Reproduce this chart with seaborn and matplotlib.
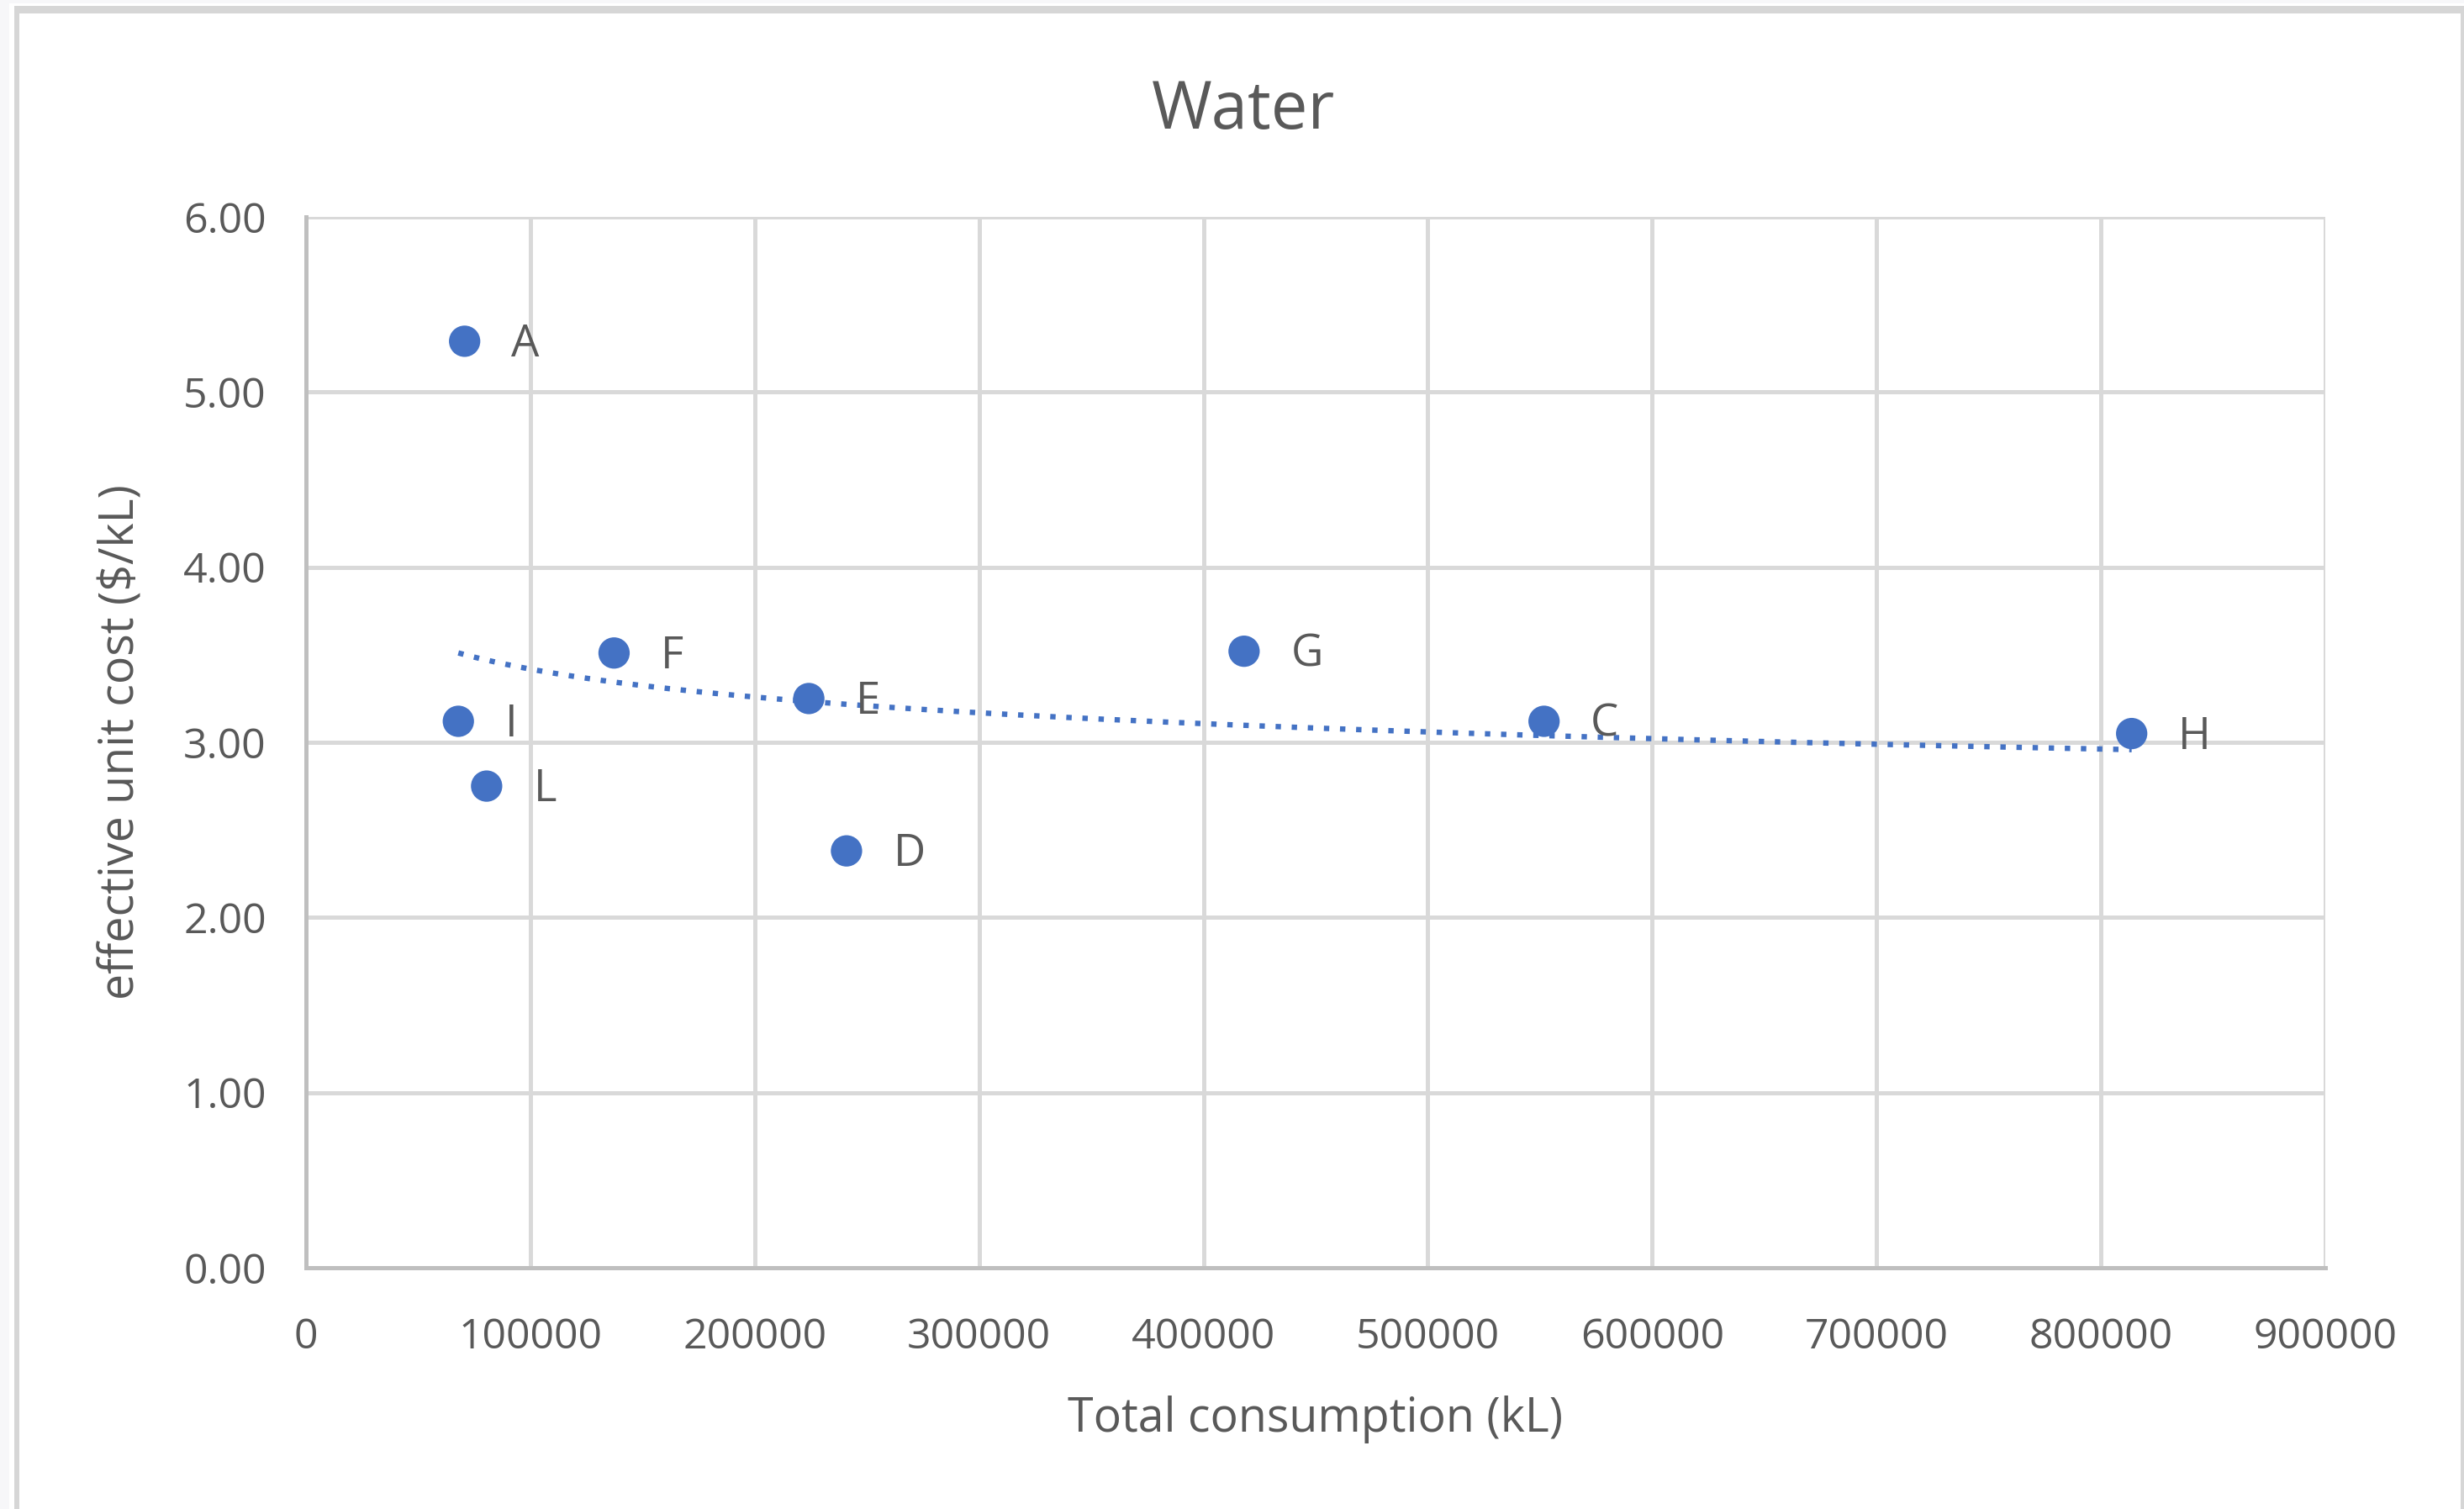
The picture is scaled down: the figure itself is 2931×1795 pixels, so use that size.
import numpy as np
import pandas as pd
import matplotlib
matplotlib.use("Agg")
import matplotlib.pyplot as plt
from matplotlib.patches import Rectangle
import seaborn as sns

# data
sites = ["A", "I", "L", "F", "E", "D", "G", "C", "H"]
consumption = [70700, 67900, 80500, 137300, 224100, 240900, 418100, 551800, 813700]
unit_cost = [5.29, 3.12, 2.75, 3.51, 3.25, 2.38, 3.52, 3.12, 3.05]

x_ticks = [0, 100000, 200000, 300000, 400000, 500000, 600000, 700000, 800000, 900000]
y_ticks = [0, 1, 2, 3, 4, 5, 6]

df = pd.DataFrame({"site": sites, "consumption": consumption, "cost": unit_cost})

sns.set_style("white")
plt.rcParams["font.family"] = ["Open Sans", "DejaVu Sans"]

blue = "#4472C4"
grey_text = "#595959"

W, H = 2931, 1795
fig = plt.figure(figsize=(W / 200, H / 200), dpi=200)
fig.patch.set_facecolor("#f7f7f9")

# chart frame like the screenshot
fig.patches.append(Rectangle((11 / W, 0), 1, 1 - 4 / H, transform=fig.transFigure,
                             facecolor="white", edgecolor="none", zorder=-3))
fig.patches.append(Rectangle((17 / W, 0), (2931 - 17) / W, 1 - 7 / H, transform=fig.transFigure,
                             facecolor="#d6d6d6", edgecolor="none", zorder=-2))
fig.patches.append(Rectangle((23 / W, 0), (2927 - 23) / W, 1 - 16 / H, transform=fig.transFigure,
                             facecolor="white", edgecolor="none", zorder=-1))

ax = fig.add_axes([364 / W, 1 - 1508 / H, (2766 - 364) / W, (1508 - 258) / H])
ax.set_facecolor("none")

# power trendline (least squares in log-log space, like Excel)
b, ln_a = np.polyfit(np.log(df["consumption"]), np.log(df["cost"]), 1)
xs = np.linspace(df["consumption"].min(), df["consumption"].max(), 200)
ax.plot(xs, np.exp(ln_a) * xs ** b, color=blue, lw=2.3, linestyle=(0, (1.0, 2.0)),
        dash_capstyle="butt", zorder=2)

sns.scatterplot(data=df, x="consumption", y="cost", ax=ax, color=blue, s=180,
                edgecolor="none", zorder=3, legend=False)

for _, r in df.iterrows():
    ax.annotate(r["site"], (r["consumption"], r["cost"]), xytext=(20, -1.5),
                textcoords="offset points", va="center", ha="left",
                fontsize=19, color=grey_text)

ax.set_xlim(0, 900000)
ax.set_ylim(0, 6)
ax.set_xticks(x_ticks)
ax.set_yticks(y_ticks)
ax.set_xticklabels([str(t) for t in x_ticks])
ax.set_yticklabels([f"{t:.2f}" for t in y_ticks])
ax.tick_params(axis="both", length=0, labelsize=18, labelcolor=grey_text)
ax.tick_params(axis="x", pad=21)
ax.tick_params(axis="y", pad=17)

ax.grid(True, color="#d9d9d9", lw=1.8)
ax.set_axisbelow(True)
for side in ["top", "right"]:
    ax.spines[side].set_visible(False)
for side in ["left", "bottom"]:
    ax.spines[side].set_color("#bfbfbf")
    ax.spines[side].set_linewidth(1.8)

ax.set_xlabel("Total consumption (kL)", fontsize=20, color=grey_text, labelpad=16)
ax.set_ylabel("effective unit cost ($/kL)", fontsize=20, color=grey_text, labelpad=16)

fig.text(0.5045, 1 - 132 / H, "Water", ha="center", va="center", fontsize=28, color=grey_text)

fig.savefig("out.png", dpi=200, facecolor=fig.get_facecolor())
